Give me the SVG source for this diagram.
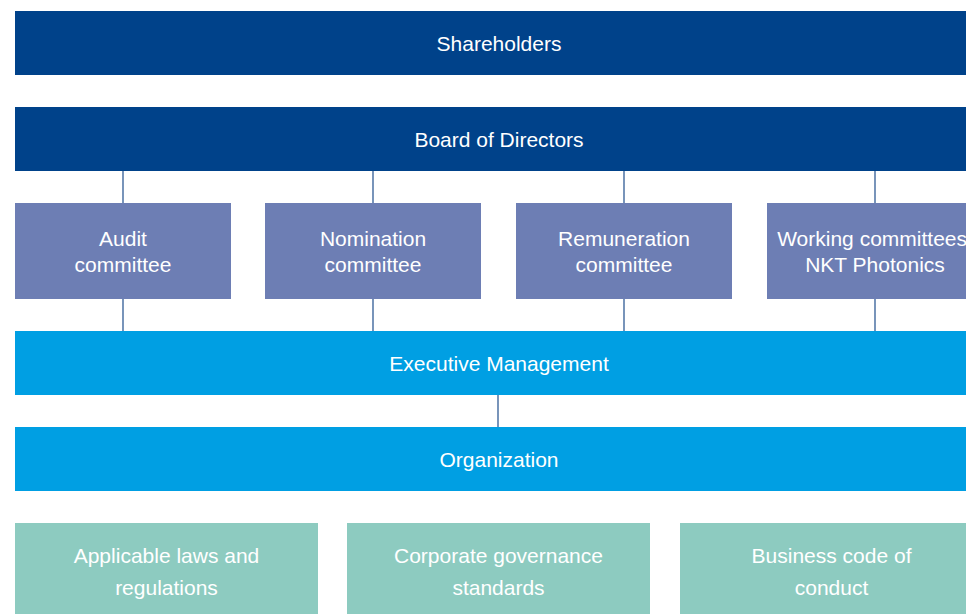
<svg xmlns="http://www.w3.org/2000/svg" width="966" height="614" viewBox="0 0 966 614">
  <style>
    .t { font-family: "Liberation Sans", Arial, sans-serif; font-size: 21px; fill: #ffffff; text-anchor: middle; }
    .dark { fill: #00428A; }
    .comm { fill: #6D7EB4; }
    .mid { fill: #009FE3; }
    .teal { fill: #8DCBC0; }
    .conn { stroke: #1F4E8C; stroke-width: 1.2; fill: none; }
  </style>
  <rect width="966" height="614" fill="#ffffff"/>
  <g id="connectors">
    <line class="conn" x1="123" y1="171" x2="123" y2="203"/>
    <line class="conn" x1="373" y1="171" x2="373" y2="203"/>
    <line class="conn" x1="624" y1="171" x2="624" y2="203"/>
    <line class="conn" x1="875" y1="171" x2="875" y2="203"/>
    <line class="conn" x1="123" y1="299" x2="123" y2="331"/>
    <line class="conn" x1="373" y1="299" x2="373" y2="331"/>
    <line class="conn" x1="624" y1="299" x2="624" y2="331"/>
    <line class="conn" x1="875" y1="299" x2="875" y2="331"/>
    <line class="conn" x1="498" y1="395" x2="498" y2="427"/>
  </g>
  <g id="shareholders">
    <rect class="dark" x="15" y="11" width="968" height="64"/>
    <text class="t" x="499" y="51">Shareholders</text>
  </g>
  <g id="board">
    <rect class="dark" x="15" y="107" width="968" height="64"/>
    <text class="t" x="499" y="147">Board of Directors</text>
  </g>
  <g id="audit">
    <rect class="comm" x="15" y="203" width="216" height="96"/>
    <text class="t" x="123" y="246">Audit</text>
    <text class="t" x="123" y="272">committee</text>
  </g>
  <g id="nomination">
    <rect class="comm" x="265" y="203" width="216" height="96"/>
    <text class="t" x="373" y="246">Nomination</text>
    <text class="t" x="373" y="272">committee</text>
  </g>
  <g id="remuneration">
    <rect class="comm" x="516" y="203" width="216" height="96"/>
    <text class="t" x="624" y="246">Remuneration</text>
    <text class="t" x="624" y="272">committee</text>
  </g>
  <g id="working">
    <rect class="comm" x="767" y="203" width="216" height="96"/>
    <text class="t" x="875" y="246">Working committees:</text>
    <text class="t" x="875" y="272">NKT Photonics</text>
  </g>
  <g id="executive">
    <rect class="mid" x="15" y="331" width="968" height="64"/>
    <text class="t" x="499" y="371">Executive Management</text>
  </g>
  <g id="organization">
    <rect class="mid" x="15" y="427" width="968" height="64"/>
    <text class="t" x="499" y="467">Organization</text>
  </g>
  <g id="laws">
    <rect class="teal" x="15" y="523" width="303" height="100"/>
    <text class="t" x="166.5" y="563">Applicable laws and</text>
    <text class="t" x="166.5" y="595">regulations</text>
  </g>
  <g id="governance">
    <rect class="teal" x="347" y="523" width="303" height="100"/>
    <text class="t" x="498.5" y="563">Corporate governance</text>
    <text class="t" x="498.5" y="595">standards</text>
  </g>
  <g id="conduct">
    <rect class="teal" x="680" y="523" width="303" height="100"/>
    <text class="t" x="831.5" y="563">Business code of</text>
    <text class="t" x="831.5" y="595">conduct</text>
  </g>
</svg>
